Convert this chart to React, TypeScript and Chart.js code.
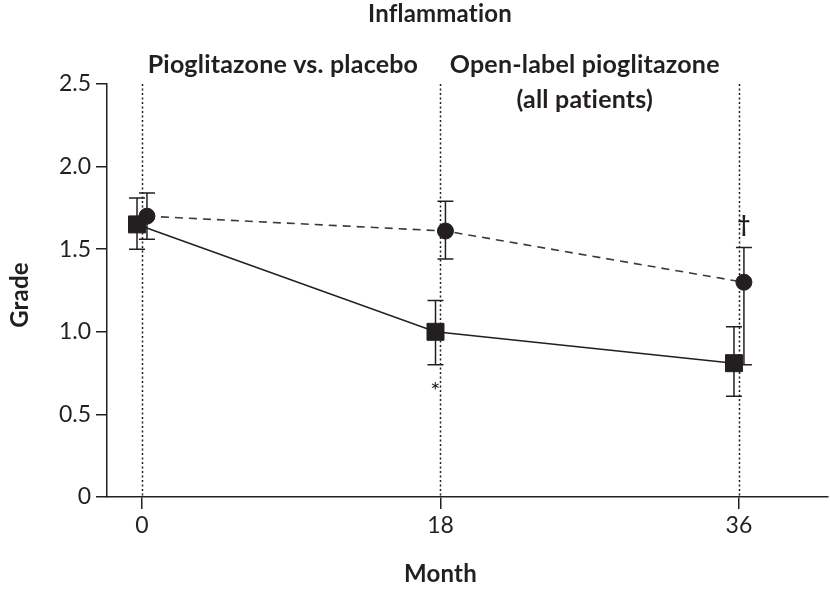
import React, { useEffect, useRef } from "react";
import { Chart, registerables } from "chart.js";

Chart.register(...registerables);

// ---- data ----
const months = [0, 18, 36];
const yTicks = [0, 0.5, 1.0, 1.5, 2.0, 2.5];

// solid line, squares
const squareGrade = [1.65, 1.0, 0.81];
const squareLow = [1.5, 0.8, 0.61];
const squareHigh = [1.81, 1.19, 1.03];

// dashed line, circles
const circleGrade = [1.7, 1.61, 1.3];
const circleLow = [1.56, 1.44, 0.8];
const circleHigh = [1.84, 1.79, 1.51];

const chartTitle = "Inflammation";
const phaseLabels = ["Pioglitazone vs. placebo", "Open-label pioglitazone", "(all patients)"];
const xTitle = "Month";
const yTitle = "Grade";
const starNote = "*";
const daggerNote = "\u2020";

// ---- style ----
const INK = "#231f20";
const FONT = "Lato, 'Open Sans', sans-serif";
const DODGE_SQ = -0.3;
const DODGE_CI = 0.3;

export default function App() {
  const ref = useRef<HTMLCanvasElement | null>(null);

  useEffect(() => {
    document.body.style.margin = "0";
    const canvas = ref.current;
    if (!canvas) return;

    const errorBars = {
      id: "errorBars",
      beforeDatasetsDraw(chart: any) {
        const { ctx, scales } = chart;
        const xs = scales.x;
        const ys = scales.y;
        // dotted verticals
        ctx.save();
        ctx.strokeStyle = INK;
        ctx.lineWidth = 1.5;
        ctx.setLineDash([2, 2.5]);
        months.forEach((m) => {
          const px = Math.round(xs.getPixelForValue(m)) + 0.5;
          ctx.beginPath();
          ctx.moveTo(px, chart.chartArea.top);
          ctx.lineTo(px, chart.chartArea.bottom);
          ctx.stroke();
        });
        ctx.setLineDash([]);
        const drawBar = (m: number, lo: number, hi: number) => {
          const px = xs.getPixelForValue(m);
          const y1 = ys.getPixelForValue(lo);
          const y2 = ys.getPixelForValue(hi);
          const cap = 8;
          ctx.beginPath();
          ctx.moveTo(px, y1);
          ctx.lineTo(px, y2);
          ctx.moveTo(px - cap, y1);
          ctx.lineTo(px + cap, y1);
          ctx.moveTo(px - cap, y2);
          ctx.lineTo(px + cap, y2);
          ctx.stroke();
        };
        ctx.lineWidth = 1.5;
        months.forEach((m, i) => drawBar(m + DODGE_SQ, squareLow[i], squareHigh[i]));
        months.forEach((m, i) => drawBar(m + DODGE_CI, circleLow[i], circleHigh[i]));
        ctx.restore();
      },
      afterDraw(chart: any) {
        const { ctx, scales } = chart;
        const xs = scales.x;
        const ys = scales.y;
        ctx.save();
        try {
          (ctx as any).letterSpacing = "0.2px";
        } catch (e) {}
        ctx.fillStyle = INK;
        ctx.textAlign = "center";
        ctx.textBaseline = "alphabetic";
        ctx.font = `bold 24px ${FONT}`;
        ctx.fillText(chartTitle, 440, 22);
        ctx.font = `bold 25px ${FONT}`;
        ctx.fillText(phaseLabels[0], xs.getPixelForValue(8.5), 73);
        ctx.fillText(phaseLabels[1], xs.getPixelForValue(26.7), 73);
        ctx.fillText(phaseLabels[2], xs.getPixelForValue(26.7), 108);
        ctx.font = `bold 24px ${FONT}`;
        ctx.textBaseline = "middle";
        ctx.fillText(xTitle, xs.getPixelForValue(18), 574);
        ctx.save();
        ctx.translate(20, 295);
        ctx.rotate(-Math.PI / 2);
        ctx.fillText(yTitle, 0, 0);
        ctx.restore();
        ctx.font = `24px ${FONT}`;
        ctx.fillText(starNote, xs.getPixelForValue(months[1] + DODGE_SQ), ys.getPixelForValue(0.64));
        ctx.font = `bold 22px ${FONT}`;
        ctx.fillText(daggerNote, xs.getPixelForValue(months[2] + DODGE_CI), ys.getPixelForValue(1.65));
        ctx.restore();
      },
    };

    const chart = new Chart(canvas, {
      type: "line",
      data: {
        datasets: [
          {
            label: "squares",
            data: months.map((m, i) => ({ x: m + DODGE_SQ, y: squareGrade[i] })),
            borderColor: INK,
            backgroundColor: INK,
            borderWidth: 1.5,
            pointStyle: "rect",
            pointRadius: 12,
            pointBorderWidth: 1,
            pointBorderColor: INK,
            pointBackgroundColor: INK,
          },
          {
            label: "circles",
            data: months.map((m, i) => ({ x: m + DODGE_CI, y: circleGrade[i] })),
            borderColor: "#3a3a3a",
            backgroundColor: INK,
            borderWidth: 1.6,
            borderDash: [8, 6],
            pointStyle: "circle",
            pointRadius: 8,
            pointBorderWidth: 1,
            pointBorderColor: INK,
            pointBackgroundColor: INK,
          },
        ],
      },
      options: {
        responsive: false,
        animation: false,
        layout: { autoPadding: false, padding: { top: 84, right: 2, left: 0, bottom: 0 } },
        plugins: { legend: { display: false }, tooltip: { enabled: false }, title: { display: false } },
        scales: {
          x: {
            type: "linear",
            min: -2.11,
            max: 41.37,
            afterBuildTicks: (s: any) => {
              s.ticks = months.map((v) => ({ value: v }));
            },
            afterFit: (s: any) => {
              s.height = 94;
              s.paddingLeft = 0;
              s.paddingRight = 0;
            },
            grid: { display: true, drawOnChartArea: false, drawTicks: true, tickLength: 12, color: INK, lineWidth: 1.5 },
            border: { display: true, color: INK, width: 1.5 },
            ticks: { color: INK, font: { family: FONT, size: 23 }, padding: 3, maxRotation: 0 },
          },
          y: {
            type: "linear",
            min: 0,
            max: 2.5,
            afterBuildTicks: (s: any) => {
              s.ticks = yTicks.map((v) => ({ value: v }));
            },
            afterFit: (s: any) => {
              s.width = 107;
            },
            grid: { display: true, drawOnChartArea: false, drawTicks: true, tickLength: 11, color: INK, lineWidth: 1.5 },
            border: { display: true, color: INK, width: 1.5 },
            ticks: {
              color: INK,
              font: { family: FONT, size: 23 },
              padding: 5,
              callback: (v: any) => (Number(v) === 0 ? "0" : Number(v).toFixed(1)),
            },
          },
        },
      },
      plugins: [errorBars],
    });
    return () => chart.destroy();
  }, []);

  return (
    <div style={{ width: 830, height: 591 }}>
      <canvas ref={ref} width={830} height={591} />
    </div>
  );
}
